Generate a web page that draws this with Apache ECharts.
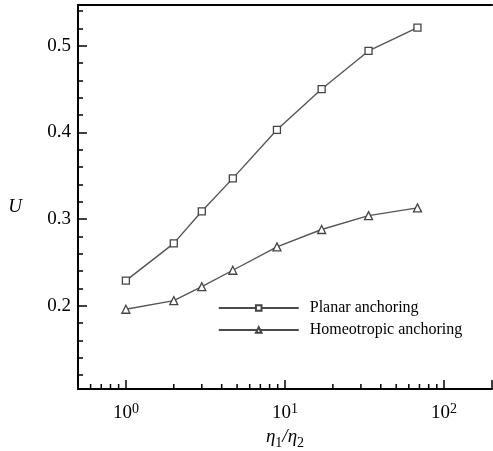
<!DOCTYPE html>
<html>
<head>
<meta charset="utf-8">
<script src="https://cdn.jsdelivr.net/npm/echarts@6/dist/echarts.min.js"></script>
<style>
  html, body { margin: 0; padding: 0; background: #fff; }
  #chart { width: 493px; height: 451px; }
</style>
</head>
<body>
<div id="chart"></div>
<script>
// viscosity ratio eta1/eta2
const ratio = [1, 2, 3, 4.7, 8.9, 17, 33.5, 68]
const planar = [0.229, 0.272, 0.309, 0.347, 0.403, 0.450, 0.494, 0.521]
const homeotropic = [0.196, 0.206, 0.222, 0.241, 0.268, 0.288, 0.304, 0.313]
// log minor ticks between decades
const minorX = [0.6, 0.7, 0.8, 0.9, 2, 3, 4, 5, 6, 7, 8, 9, 20, 30, 40, 50, 60, 70, 80, 90]

const X_MIN = 0.5
const X_MAX = 200
const Y_MIN = 0.104
const Y_MAX = 0.547

const serif = 'Liberation Serif'

const chart = echarts.init(document.getElementById('chart'), null, { renderer: 'canvas' })

function pairs(ys) {
  return ratio.map((x, i) => [x, ys[i]])
}

const option = {
  backgroundColor: '#fff',
  animation: false,
  grid: {
    left: 78,
    right: 1,
    top: 5,
    bottom: 62,
    outerBoundsMode: 'none',
    containLabel: false
  },
  legend: {
    data: ['Planar anchoring', 'Homeotropic anchoring'],
    orient: 'vertical',
    left: 218,
    top: 300,
    padding: 0,
    itemWidth: 80,
    itemHeight: 7,
    itemGap: 6,
    lineStyle: { color: '#111', width: 1.5 },
    textStyle: {
      fontFamily: serif,
      fontSize: 16,
      color: '#000',
      lineHeight: 16,
      padding: [0, 0, 0, 6]
    }
  },
  xAxis: [
    {
      type: 'log',
      logBase: 10,
      min: X_MIN,
      max: X_MAX,
      name: '{i|η}{s|1}{i|/η}{s|2}',
      nameLocation: 'middle',
      nameGap: 35,
      nameTextStyle: {
        rich: {
          i: { fontFamily: serif, fontStyle: 'italic', fontSize: 19, color: '#000', lineHeight: 22, verticalAlign: 'top' },
          s: { fontFamily: serif, fontSize: 14, color: '#000', lineHeight: 22, verticalAlign: 'bottom' }
        }
      },
      axisLine: { show: true, lineStyle: { color: '#000', width: 2 } },
      axisTick: { show: true, inside: true, length: 9, lineStyle: { color: '#000', width: 1.5 } },
      splitLine: { show: false },
      axisLabel: {
        margin: 13,
        formatter: v => {
          const e = Math.log10(v)
          if (Math.abs(e - Math.round(e)) > 1e-6) return ''
          return '{b|10}{p|' + Math.round(e) + '}'
        },
        rich: {
          b: { fontFamily: serif, fontSize: 19, color: '#000', lineHeight: 21, verticalAlign: 'bottom' },
          p: { fontFamily: serif, fontSize: 14, color: '#000', lineHeight: 21, verticalAlign: 'top' }
        }
      }
    },
    {
      type: 'log',
      logBase: 10,
      min: X_MIN,
      max: X_MAX,
      position: 'top',
      axisLine: { show: true, lineStyle: { color: '#000', width: 2 } },
      axisTick: { show: false },
      axisLabel: { show: false },
      splitLine: { show: false }
    }
  ],
  yAxis: {
    type: 'value',
    min: Y_MIN,
    max: Y_MAX,
    name: 'U',
    nameLocation: 'middle',
    nameRotate: 0,
    nameGap: 56,
    nameTextStyle: {
      fontFamily: serif,
      fontStyle: 'italic',
      fontSize: 19,
      color: '#000',
      verticalAlign: 'top'
    },
    axisLine: { show: true, lineStyle: { color: '#000', width: 2 } },
    axisTick: { show: true, inside: true, length: 9, lineStyle: { color: '#000', width: 1.5 } },
    minorTick: { show: true, splitNumber: 5, length: 5, lineStyle: { color: '#000', width: 1.5 } },
    splitLine: { show: false },
    axisLabel: {
      showMinLabel: false,
      showMaxLabel: false,
      margin: 7,
      fontFamily: serif,
      fontSize: 19,
      color: '#000'
    }
  },
  series: [
    {
      name: 'Planar anchoring',
      type: 'line',
      data: pairs(planar),
      symbol: 'rect',
      symbolSize: 7,
      lineStyle: { color: '#555', width: 1.4 },
      itemStyle: { color: '#fff', borderColor: '#444', borderWidth: 1.3 }
    },
    {
      name: 'Homeotropic anchoring',
      type: 'line',
      data: pairs(homeotropic),
      symbol: 'triangle',
      symbolSize: 8,
      lineStyle: { color: '#555', width: 1.4 },
      itemStyle: { color: '#fff', borderColor: '#444', borderWidth: 1.3 }
    },
    {
      // minor ticks for the log x axis, placed through the axis scale
      name: 'minor',
      type: 'custom',
      silent: true,
      clip: false,
      data: minorX.map(v => [v, Y_MIN]),
      renderItem: (params, api) => {
        const p = api.coord([api.value(0), api.value(1)])
        return {
          type: 'line',
          shape: { x1: p[0], y1: p[1], x2: p[0], y2: p[1] - 5 },
          style: { stroke: '#000', lineWidth: 1.5 }
        }
      }
    }
  ]
}

chart.setOption(option)
</script>
</body>
</html>
